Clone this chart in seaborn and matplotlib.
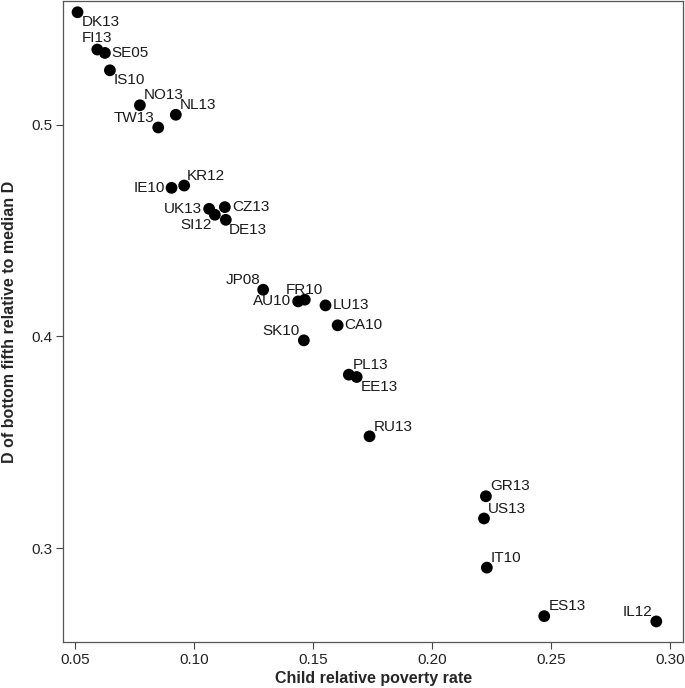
import matplotlib
matplotlib.use("Agg")
import matplotlib.pyplot as plt
import seaborn as sns
import pandas as pd

# Values
countries = ["DK13", "FI13", "SE05", "IS10", "NO13", "NL13", "TW13",
             "IE10", "KR12", "UK13", "SI12", "CZ13", "DE13",
             "JP08", "AU10", "FR10", "LU13", "CA10", "SK10", "PL13", "EE13",
             "RU13", "GR13", "US13", "IT10", "ES13", "IL12"]
poverty = [0.0511, 0.0594, 0.0626, 0.0647, 0.0773, 0.0924, 0.0850,
           0.0906, 0.0959, 0.1064, 0.1088, 0.1130, 0.1134,
           0.1291, 0.1438, 0.1466, 0.1553, 0.1604, 0.1462, 0.1651, 0.1684,
           0.1738, 0.2227, 0.2219, 0.2231, 0.2472, 0.2943]
bottom_fifth = [0.5530, 0.5354, 0.5338, 0.5256, 0.5091, 0.5046, 0.4986,
                0.4701, 0.4712, 0.4602, 0.4574, 0.4610, 0.4550,
                0.4220, 0.4165, 0.4173, 0.4146, 0.4052, 0.3981, 0.3819, 0.3808,
                0.3528, 0.3245, 0.3140, 0.2908, 0.2679, 0.2654]

# where each label sits relative to its point (dx, dy in points, ha, va)
label_pos = {
    "DK13": (3, -2, "left", "top"), "FI13": (0, 3, "center", "bottom"),
    "SE05": (5, 0, "left", "center"), "IS10": (3, -2, "left", "top"),
    "NO13": (3, 2, "left", "bottom"), "NL13": (3, 2, "left", "bottom"),
    "TW13": (-3, 2, "right", "bottom"), "IE10": (-5, 0, "right", "center"),
    "KR12": (2, 2, "left", "bottom"), "UK13": (-5, 0, "right", "center"),
    "SI12": (-2, -2, "right", "top"), "CZ13": (5, 0, "left", "center"),
    "DE13": (2, -2, "left", "top"), "JP08": (-2, 2, "right", "bottom"),
    "AU10": (-5, 0, "right", "center"), "FR10": (0, 2, "center", "bottom"),
    "LU13": (5, 0, "left", "center"), "CA10": (5, 0, "left", "center"),
    "SK10": (-3, 2, "right", "bottom"), "PL13": (3, 2, "left", "bottom"),
    "EE13": (3, -2, "left", "top"), "RU13": (3, 2, "left", "bottom"),
    "GR13": (3, 2, "left", "bottom"), "US13": (3, 2, "left", "bottom"),
    "IT10": (3, 2, "left", "bottom"), "ES13": (3, 2, "left", "bottom"),
    "IL12": (-3, 2, "right", "bottom"),
}

df = pd.DataFrame({"country": countries, "poverty": poverty, "d": bottom_fifth})

sns.set_theme(style="ticks")
plt.rcParams["font.family"] = ["Liberation Sans", "DejaVu Sans"]

fig = plt.figure(figsize=(6.85, 6.88), dpi=100)
ax = fig.add_axes([0.0927, 0.0669, 0.9043, 0.9316])

sns.scatterplot(data=df, x="poverty", y="d", color="black", s=72,
                edgecolor="none", ax=ax, zorder=3)

for name, x, y in zip(countries, poverty, bottom_fifth):
    dx, dy, ha, va = label_pos[name]
    ax.annotate(name, (x, y), xytext=(dx, dy), textcoords="offset points",
                ha=ha, va=va, fontsize=11, color="#1a1a1a")

ax.set_xlim(0.0452, 0.3055)
ax.set_ylim(0.2557, 0.5583)
ax.set_xticks([0.05, 0.10, 0.15, 0.20, 0.25, 0.30])
ax.set_xticklabels(["0.05", "0.10", "0.15", "0.20", "0.25", "0.30"])
ax.set_yticks([0.3, 0.4, 0.5])
ax.set_yticklabels(["0.3", "0.4", "0.5"])
ax.tick_params(direction="out", length=5, width=0.8, color="#444444",
               labelsize=11, labelcolor="#222222", pad=3)
for sp in ax.spines.values():
    sp.set_color("#555555")
    sp.set_linewidth(0.9)

ax.set_xlabel("Child relative poverty rate", fontweight="bold", fontsize=11.5, labelpad=3)
ax.set_ylabel("D of bottom fifth relative to median D", fontweight="bold", fontsize=11.5, labelpad=10)

fig.savefig("out.png", dpi=100)
